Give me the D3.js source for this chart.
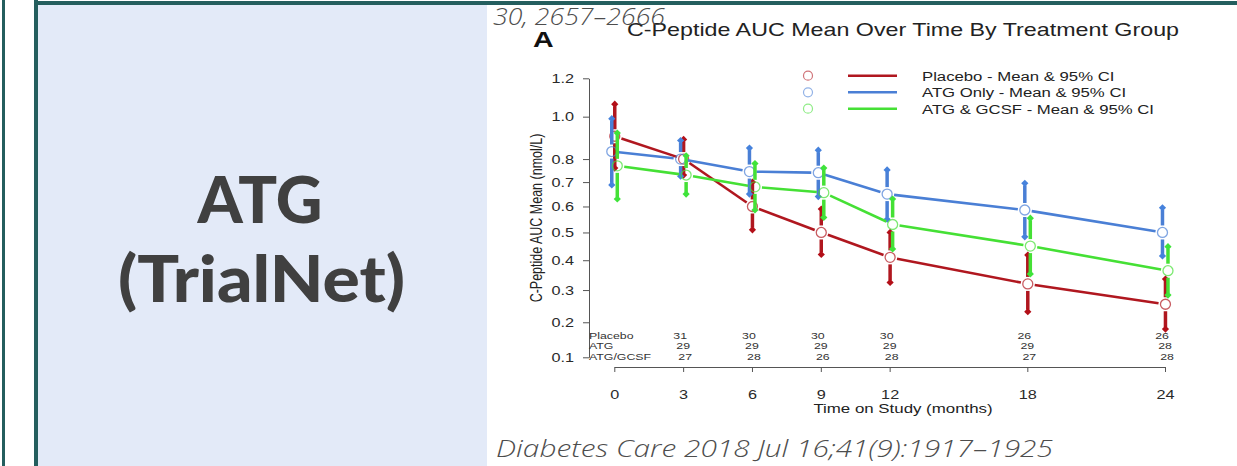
<!DOCTYPE html>
<html>
<head>
<meta charset="utf-8">
<script src="https://cdn.jsdelivr.net/npm/d3@7"></script>
<style>
html, body { margin: 0; padding: 0; background: #fff; }
svg { display: block; }
</style>
</head>
<body>
<svg id="slide" width="1237" height="466"></svg>
<script>
// data
const months = [0, 3, 6, 9, 12, 18, 24];
const groupNames = ["Placebo", "ATG Only", "ATG & GCSF"];

const placeboMean = [0.905, 0.80, 0.60, 0.50, 0.41, 0.32, 0.255];
const placeboLow  = [0.76, 0.73, 0.51, 0.42, 0.325, 0.232, 0.18];
const placeboHigh = [1.063, 0.89, 0.70, 0.59, 0.50, 0.418, 0.336];

const atgMean = [0.834, 0.80, 0.745, 0.74, 0.65, 0.586, 0.50];
const atgLow  = [0.688, 0.725, 0.65, 0.64, 0.55, 0.484, 0.415];
const atgHigh = [0.99, 0.885, 0.85, 0.84, 0.752, 0.695, 0.595];

const gcsfMean = [0.77, 0.73, 0.68, 0.656, 0.53, 0.45, 0.364];
const gcsfLow  = [0.63, 0.65, 0.586, 0.557, 0.44, 0.353, 0.284];
const gcsfHigh = [0.92, 0.815, 0.78, 0.76, 0.63, 0.554, 0.448];

const countRows = ["Placebo", "ATG", "ATG/GCSF"];
const countMonths = [3, 6, 9, 12, 18, 24];
const countPlacebo = [31, 30, 30, 30, 26, 26];
const countATG = [29, 29, 29, 29, 29, 28];
const countGCSF = [27, 28, 26, 28, 27, 28];

const yTicks = [0.1, 0.2, 0.3, 0.4, 0.5, 0.6, 0.7, 0.8, 1.0, 1.2];
const xTicks = [0, 3, 6, 9, 12, 18, 24];

const SX = 1.3;   // the embedded figure is stretched sideways
const FONT = "'Liberation Sans', Arial, Helvetica, sans-serif";

const series = [
  {name: groupNames[0], mean: placeboMean, low: placeboLow, high: placeboHigh, color: "#b0171f", dot: "#b30f18", dodge: 0.02},
  {name: groupNames[1], mean: atgMean, low: atgLow, high: atgHigh, color: "#4a7fd5", dot: "#4682dc", dodge: -0.11},
  {name: groupNames[2], mean: gcsfMean, low: gcsfLow, high: gcsfHigh, color: "#45e035", dot: "#3fe33a", dodge: 0.13}
];

const svg = d3.select("#slide");

// frame + left panel
svg.append("rect").attr("x", 2).attr("y", 0).attr("width", 3).attr("height", 466).attr("fill", "#245e5e");
svg.append("rect").attr("x", 38).attr("y", 5).attr("width", 449).attr("height", 461).attr("fill", "#e3eaf8");
svg.append("rect").attr("x", 34).attr("y", 0).attr("width", 4).attr("height", 466).attr("fill", "#245e5e");
svg.append("rect").attr("x", 34).attr("y", 1).attr("width", 1203).attr("height", 4).attr("fill", "#245e5e");

// squeeze/stretch a text sideways so it covers a given width
function fitText(sel, cx, y, target) {
  sel.attr("x", 0).attr("y", 0);
  const w = sel.node().getComputedTextLength();
  sel.attr("transform", `translate(${cx},${y}) scale(${target / w},1)`);
}

const panelText = svg.append("g")
  .attr("font-family", "Lato, 'Open Sans', sans-serif")
  .attr("font-weight", 900)
  .attr("font-size", 64)
  .attr("fill", "#404040")
  .attr("text-anchor", "middle");
fitText(panelText.append("text").text("ATG"), 260, 223, 125);
fitText(panelText.append("text").text("(TrialNet)"), 261.5, 302, 287);

// chart
const chart = svg.append("g").attr("font-family", FONT);

const x = d3.scaleLinear().domain([0, 24]).range([614.3, 1165]);
const y = d3.scaleSymlog().constant(1).domain([0.1, 1.2]).range([357.3, 78.3]);

const yAxis = d3.axisLeft(y)
  .tickValues(yTicks)
  .tickFormat(d3.format(".1f"))
  .tickSize(6)
  .tickSizeOuter(0);

const gy = chart.append("g").attr("transform", "translate(589,0)").call(yAxis);
gy.attr("font-family", FONT).attr("font-size", 12.5);
gy.select(".domain").attr("stroke", "#555");
gy.selectAll(".tick line").attr("stroke", "#555");
gy.selectAll(".tick text")
  .attr("x", 0)
  .attr("fill", "#2a2a2a")
  .attr("transform", `translate(-15,0) scale(${SX},1)`);

const xAxis = d3.axisBottom(x)
  .tickValues(xTicks)
  .tickSize(5)
  .tickSizeOuter(0)
  .tickPadding(18);

const gx = chart.append("g").attr("transform", "translate(0,367)").call(xAxis);
gx.attr("font-family", FONT).attr("font-size", 12.5);
gx.select(".domain").attr("stroke", "#555");
gx.selectAll(".tick line").attr("stroke", "#555");
gx.selectAll(".tick text").attr("fill", "#2a2a2a").attr("transform", `scale(${SX},1)`);

// titles
chart.append("text")
  .attr("text-anchor", "middle")
  .attr("font-size", 17.5)
  .attr("fill", "#222")
  .attr("transform", `translate(903,36) scale(1.33,1)`)
  .text("C-Peptide AUC Mean Over Time By Treatment Group");

chart.append("text")
  .attr("font-size", 22)
  .attr("font-weight", 700)
  .attr("fill", "#111")
  .attr("transform", `translate(533,47) scale(${SX},1)`)
  .text("A");

chart.append("text")
  .attr("text-anchor", "middle")
  .attr("font-size", 13.5)
  .attr("fill", "#222")
  .attr("transform", `translate(903,413) scale(1.25,1)`)
  .text("Time on Study (months)");

chart.append("text")
  .attr("text-anchor", "middle")
  .attr("font-size", 12.5)
  .attr("fill", "#222")
  .attr("transform", `translate(542,218) rotate(-90) scale(1,${SX})`)
  .text("C-Peptide AUC Mean (nmol/L)");

// numbers at risk
const countData = [countPlacebo, countATG, countGCSF];
const rowY = [338.5, 349, 360];
const rowShift = [-3, 0, 2];

chart.append("g").selectAll("text")
  .data(countRows)
  .join("text")
  .attr("font-size", 9.5)
  .attr("fill", "#333")
  .attr("transform", (d, i) => `translate(589,${rowY[i]}) scale(${SX},1)`)
  .text(d => d);

countData.forEach((row, r) => {
  chart.append("g").selectAll("text")
    .data(row)
    .join("text")
    .attr("font-size", 9.5)
    .attr("fill", "#333")
    .attr("text-anchor", "middle")
    .attr("transform", (d, i) => `translate(${x(countMonths[i]) + rowShift[r]},${rowY[r]}) scale(${SX},1)`)
    .text(d => d);
});

// series: lines with gaps (type "b"), CI bars with gap, diamonds, open circles
const R = 5, GAP = 7;
const diamond = d3.symbol(d3.symbolSquare, 26);

series.forEach(s => {
  const pts = months.map((m, i) => ({
    x: x(m + s.dodge), y: y(s.mean[i]), lo: y(s.low[i]), hi: y(s.high[i])
  }));
  const g = chart.append("g");

  const segs = d3.pairs(pts).map(([a, b]) => {
    const dx = b.x - a.x, dy = b.y - a.y, L = Math.hypot(dx, dy);
    const ux = dx / L, uy = dy / L;
    return {x1: a.x + ux * GAP, y1: a.y + uy * GAP, x2: b.x - ux * GAP, y2: b.y - uy * GAP};
  });
  g.selectAll(".seg")
    .data(segs)
    .join("line")
    .attr("class", "seg")
    .attr("x1", d => d.x1).attr("y1", d => d.y1)
    .attr("x2", d => d.x2).attr("y2", d => d.y2)
    .attr("stroke", s.color)
    .attr("stroke-width", 2.6);

  const bars = [];
  pts.forEach(p => {
    if (p.y - GAP > p.hi + 2) bars.push({x: p.x, y1: p.hi + 2, y2: p.y - GAP});
    if (p.lo - 2 > p.y + GAP) bars.push({x: p.x, y1: p.y + GAP, y2: p.lo - 2});
  });
  g.selectAll(".bar")
    .data(bars)
    .join("line")
    .attr("class", "bar")
    .attr("x1", d => d.x).attr("x2", d => d.x)
    .attr("y1", d => d.y1).attr("y2", d => d.y2)
    .attr("stroke", s.color)
    .attr("stroke-width", 3.5);

  const ends = pts.flatMap(p => [{x: p.x, y: p.hi}, {x: p.x, y: p.lo}]);
  g.selectAll(".end")
    .data(ends)
    .join("path")
    .attr("class", "end")
    .attr("d", diamond)
    .attr("transform", d => `translate(${d.x},${d.y}) rotate(45)`)
    .attr("fill", s.dot);

  g.selectAll(".pt")
    .data(pts)
    .join("circle")
    .attr("class", "pt")
    .attr("cx", d => d.x).attr("cy", d => d.y)
    .attr("r", R)
    .attr("fill", "none")
    .attr("stroke", s.color)
    .attr("stroke-opacity", 0.7)
    .attr("stroke-width", 1.3);
});

// legend
const legend = chart.append("g");
const legY = [75.7, 92.3, 108.7];
series.forEach((s, i) => {
  legend.append("circle")
    .attr("cx", 808).attr("cy", legY[i]).attr("r", 4.5)
    .attr("fill", "none").attr("stroke", s.color).attr("stroke-opacity", 0.6).attr("stroke-width", 1.2);
  legend.append("line")
    .attr("x1", 848).attr("x2", 897).attr("y1", legY[i]).attr("y2", legY[i])
    .attr("stroke", s.color).attr("stroke-width", 2.5);
  legend.append("text")
    .attr("font-size", 13.5)
    .attr("fill", "#222")
    .attr("transform", `translate(922,${legY[i] + 4.8}) scale(1.24,1)`)
    .text(s.name + " - Mean & 95% CI");
});

// citations
const cite = svg.append("g")
  .attr("font-family", "'Open Sans', Lato, sans-serif")
  .attr("font-style", "italic")
  .attr("font-weight", 300)
  .attr("font-size", 24)
  .attr("fill", "#4d4d4d");
fitText(cite.append("text").text("30, 2657\u20132666"), 493, 25, 172);
fitText(cite.append("text").text("Diabetes Care 2018 Jul 16;41(9):1917\u20131925"), 496, 457, 557);
</script>
</body>
</html>
